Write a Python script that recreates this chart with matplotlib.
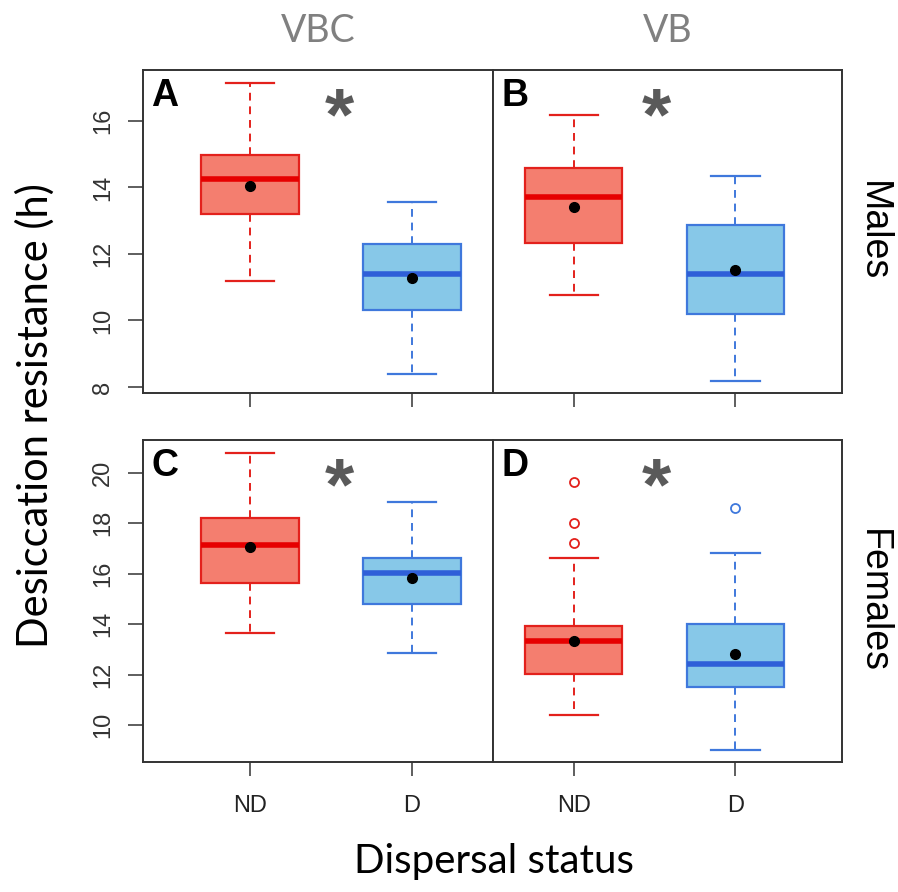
import matplotlib
matplotlib.use("Agg")
import matplotlib.pyplot as plt

groups = ["ND", "D"]
panel_labels = ["A", "B", "C", "D"]
columns = ["VBC", "VB"]
rows = ["Males", "Females"]

# per panel: [ND, D]
whisk_lo = [[11.2, 8.38], [10.77, 8.19], [13.63, 12.84], [10.41, 9.01]]
q1 = [[13.2, 10.32], [12.32, 10.2], [15.64, 14.80], [12.01, 11.51]]
medians = [[14.26, 11.39], [13.72, 11.39], [17.12, 16.01], [13.32, 12.40]]
q3 = [[14.96, 12.31], [14.58, 12.87], [18.22, 16.63], [13.92, 14.0]]
whisk_hi = [[17.15, 13.57], [16.18, 14.35], [20.79, 18.84], [16.63, 16.81]]
means = [[14.05, 11.27], [13.42, 11.52], [17.04, 15.84], [13.34, 12.8]]
outliers = [[[], []], [[], []], [[], []], [[19.64, 18.02, 17.23], [18.59]]]

fill_cols = ["#F47E6F", "#87C8E8"]
edge_cols = ["#E3211C", "#3F78DC"]
med_cols = ["#E60000", "#2F5FD8"]

W, H = 898, 892
fig = plt.figure(figsize=(W / 100, H / 100), dpi=100)

def rect(x0, y0, x1, y1):
    return [x0 / W, 1 - y1 / H, (x1 - x0) / W, (y1 - y0) / H]

rects = [rect(143, 70, 493, 393), rect(493, 70, 842, 393),
         rect(143, 440, 493, 762), rect(493, 440, 842, 762)]
xlims = [(0.34, 2.5), (0.5, 2.66), (0.34, 2.5), (0.5, 2.66)]
ylims = [(7.82, 17.53), (7.82, 17.53), (8.53, 21.3), (8.53, 21.3)]
yticks = [range(8, 17, 2), range(8, 17, 2), range(10, 21, 2), range(10, 21, 2)]

arial = ["Liberation Sans", "DejaVu Sans"]
label_font = ["Lato", "DejaVu Sans"]
axes = []
for i in range(4):
    ax = fig.add_axes(rects[i])
    axes.append(ax)
    for g in range(2):
        st = dict(whislo=whisk_lo[i][g], q1=q1[i][g], med=medians[i][g],
                  q3=q3[i][g], whishi=whisk_hi[i][g], mean=means[i][g],
                  fliers=outliers[i][g], label=groups[g])
        ax.bxp([st], positions=[g + 1], widths=0.6, capwidths=0.3,
               patch_artist=True, showmeans=True, manage_ticks=False,
               boxprops=dict(facecolor=fill_cols[g], edgecolor=edge_cols[g], linewidth=1.6),
               whiskerprops=dict(color=edge_cols[g], linestyle=(0, (4, 3)), linewidth=1.4),
               capprops=dict(color=edge_cols[g], linewidth=1.6),
               medianprops=dict(color=med_cols[g], linewidth=4),
               meanprops=dict(marker="o", markerfacecolor="black", markeredgecolor="black",
                              markersize=7),
               flierprops=dict(marker="o", markerfacecolor="none", markeredgecolor=edge_cols[g],
                               markersize=6.5, markeredgewidth=1.3))
    ax.set_xlim(*xlims[i])
    ax.set_ylim(*ylims[i])
    ax.set_xticks([1, 2])
    ax.tick_params(axis="x", length=10, width=1.1, color="#333333", pad=14)
    if i >= 2:
        ax.set_xticklabels(groups, fontsize=17, family=arial, color="#222222")
    else:
        ax.set_xticklabels([])
    if i % 2 == 0:
        ax.set_yticks(list(yticks[i]))
        ax.set_yticklabels([str(v) for v in yticks[i]], fontsize=17, family=arial,
                           color="#333333", rotation=90, va="center")
        ax.tick_params(axis="y", length=11, width=1.1, color="#333333", pad=10)
    else:
        ax.set_yticks([])
    for s in ax.spines.values():
        s.set_color("#333333")
        s.set_linewidth(1.4)
    ax.text(0.024, 0.975, panel_labels[i], transform=ax.transAxes, ha="left", va="top",
            fontsize=27, fontweight="bold", family=arial)
    xs = 1.55 if i % 2 == 0 else 1.51
    ax.text(xs, 0.845, "*", transform=ax.get_xaxis_transform(), ha="center", va="center",
            fontsize=54, fontweight="bold", color="#5a5a5a", family=arial)

for j, name in enumerate(columns):
    pos = axes[j].get_position()
    fig.text((pos.x0 + pos.x1) / 2, 1 - 31 / H, name,
             ha="center", va="center", fontsize=27, color="#808080", family=label_font)
for j, name in enumerate(rows):
    pos = axes[2 * j + 1].get_position()
    fig.text(873 / W, (pos.y0 + pos.y1) / 2, name, ha="center", va="center", rotation=-90,
             fontsize=27, color="black", family=arial)

fig.text(35 / W, 1 - 416 / H, "Desiccation resistance (h)", ha="center", va="center",
         rotation=90, fontsize=30, family=label_font)
fig.text(494 / W, 1 - 862 / H, "Dispersal status", ha="center", va="center",
         fontsize=29, family=label_font)

fig.savefig("out.png", dpi=100)
